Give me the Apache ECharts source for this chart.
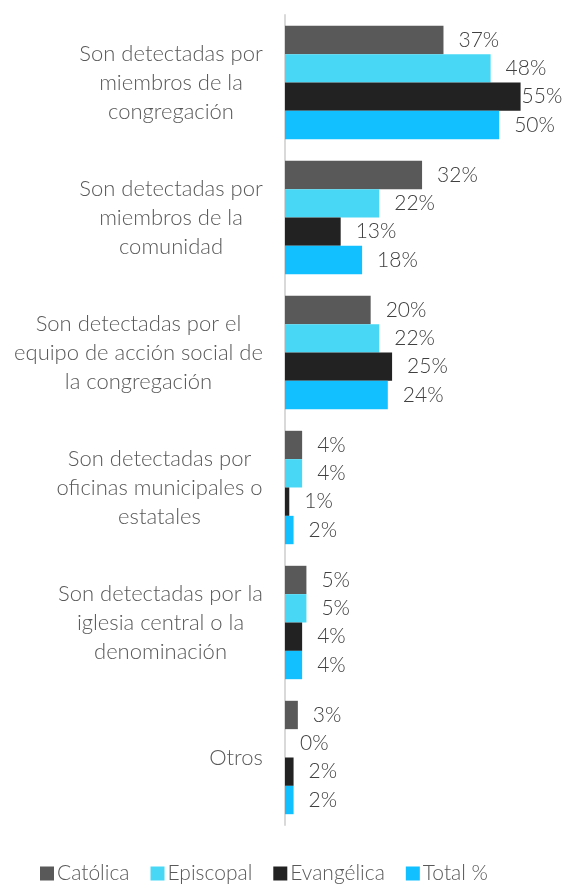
<!DOCTYPE html>
<html>
<head>
<meta charset="utf-8">
<script src="https://cdn.jsdelivr.net/npm/echarts@6/dist/echarts.min.js"></script>
<style>
  html, body { margin: 0; padding: 0; background: #fff; }
  #chart { width: 565px; height: 884px; }
</style>
</head>
<body>
<div id="chart"></div>
<script>
const categories = [
    'Son detectadas por\nmiembros de la\ncongregación',
    'Son detectadas por\nmiembros de la\ncomunidad',
    'Son detectadas por el\nequipo de acción social de\nla congregación',
    'Son detectadas por\noficinas municipales o\nestatales',
    'Son detectadas por la\niglesia central o la\ndenominación',
    'Otros'
];
const seriesNames = ['Católica', 'Episcopal', 'Evangélica', 'Total %'];
const catolica = [37, 32, 20, 4, 5, 3];
const episcopal = [48, 22, 22, 4, 5, 0];
const evangelica = [55, 13, 25, 1, 4, 2];
const total = [50, 18, 24, 2, 4, 2];

const colors = ['#595959', '#48d8f6', '#222222', '#12bfff'];
const FONT = 'Lato, "Open Sans", sans-serif';
const CAT_SIZE = 22;
const CAT_WEIGHT = 300;

// medir el ancho de la línea más larga de cada etiqueta para centrar las líneas
const ctx = document.createElement('canvas').getContext('2d');
ctx.font = CAT_WEIGHT + ' ' + CAT_SIZE + 'px ' + FONT;
const rich = {};
categories.forEach((c, i) => {
    const w = Math.max(...c.split('\n').map(l => ctx.measureText(l).width));
    rich['c' + i] = {
        width: Math.ceil(w),
        align: 'center',
        color: '#595959',
        fontFamily: FONT,
        fontSize: CAT_SIZE,
        fontWeight: CAT_WEIGHT,
        lineHeight: 29
    };
});

const chart = echarts.init(document.getElementById('chart'));

function makeSeries(name, values, color) {
    return {
        name: name,
        type: 'bar',
        barGap: '0%',
        barCategoryGap: '16%',
        itemStyle: { color: color },
        label: {
            show: true,
            position: 'right',
            distance: 15,
            formatter: '{c}%',
            color: '#404040',
            fontFamily: FONT,
            fontWeight: 300,
            fontSize: 21
        },
        // la etiqueta de 55% queda pegada a la barra en el original
        data: values.map(v => v >= 55 ? { value: v, label: { distance: 1 } } : v)
    };
}

chart.setOption({
    animation: false,
    grid: { left: 285, right: 23, top: 15, bottom: 59, containLabel: false },
    legend: {
        top: 858,
        left: 35,
        itemWidth: 14,
        itemHeight: 14,
        itemGap: 21,
        icon: 'rect',
        textStyle: { color: '#595959', fontSize: 21, fontWeight: 300, fontFamily: FONT, padding: [0, 0, 0, -2] },
        data: seriesNames
    },
    xAxis: {
        type: 'value',
        min: 0,
        max: 60,
        show: false,
        splitLine: { show: false }
    },
    yAxis: {
        type: 'category',
        inverse: true,
        data: categories,
        axisTick: { show: false },
        axisLine: { show: true, lineStyle: { color: '#d9d9d9', width: 2 } },
        axisLabel: {
            margin: 22,
            align: 'right',
            formatter: (value, index) => value.split('\n').map(l => '{c' + index + '|' + l + '}').join('\n'),
            rich: rich
        }
    },
    series: [
        makeSeries(seriesNames[0], catolica, colors[0]),
        makeSeries(seriesNames[1], episcopal, colors[1]),
        makeSeries(seriesNames[2], evangelica, colors[2]),
        makeSeries(seriesNames[3], total, colors[3])
    ]
});
</script>
</body>
</html>
